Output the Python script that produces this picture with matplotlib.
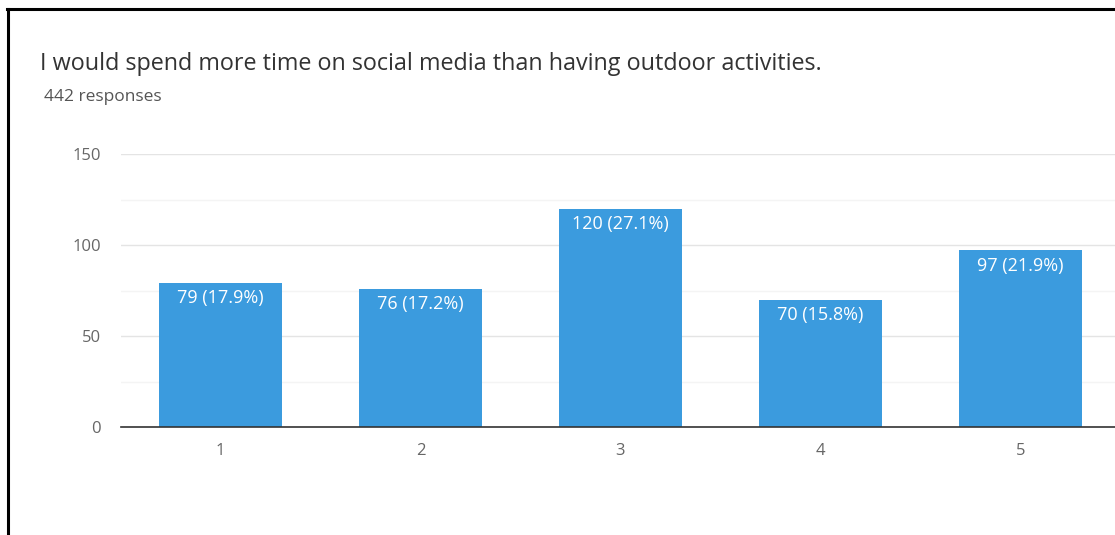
import matplotlib
matplotlib.use("Agg")
import matplotlib.pyplot as plt
from matplotlib.lines import Line2D

title = "I would spend more time on social media than having outdoor activities."
subtitle = "442 responses"
categories = ["1", "2", "3", "4", "5"]
counts = [79, 76, 120, 70, 97]
percents = ["17.9%", "17.2%", "27.1%", "15.8%", "21.9%"]
yticks = [0, 50, 100, 150]
minor_yticks = [25, 75, 125]

W, H = 1115, 535
fig = plt.figure(figsize=(W / 100, H / 100), dpi=100)
plt.rcParams['font.family'] = ['Open Sans', 'DejaVu Sans']

ax = fig.add_axes([120.5 / W, 108 / H, (W - 120.5) / W, 273 / H])
x = list(range(1, len(categories) + 1))
bar_color = '#3B9BDE'
ax.bar(x, counts, width=0.615, color=bar_color, zorder=3)
for xi, c, p in zip(x, counts, percents):
    ax.annotate(f"{c} ({p})", (xi, c), xytext=(0, -4.5), textcoords='offset points',
                ha='center', va='top', color='white', fontsize=13, zorder=4)

ax.set_xlim(0.5, 0.5 + (W - 120.5) / 200)
ax.set_ylim(0, 150)
ax.set_yticks(yticks)
ax.set_yticks(minor_yticks, minor=True)
ax.set_xticks(x)
ax.set_xticklabels(categories)
ax.grid(axis='y', which='major', color='#e4e4e4', linewidth=1, zorder=0)
ax.grid(axis='y', which='minor', color='#f4f4f4', linewidth=1, zorder=0)
ax.tick_params(axis='both', which='both', length=0, colors='#666666', labelsize=12)
ax.tick_params(axis='y', pad=14)
ax.tick_params(axis='x', pad=11.5)
for s in ['left', 'right', 'top']:
    ax.spines[s].set_visible(False)
ax.spines['bottom'].set_color('#333333')
ax.spines['bottom'].set_linewidth(1.2)
ax.spines['bottom'].set_zorder(5)

fig.text(40 / W, 1 - 70 / H, title, fontsize=16.8, color='#333333', va='baseline', ha='left')
fig.text(44 / W, 1 - 101 / H, subtitle, fontsize=12.5, color='#555555', va='baseline', ha='left')

# frame border
fig.add_artist(Line2D([7.5 / W, 7.5 / W], [0, 1 - 9 / H], color='black', linewidth=2.2,
                      transform=fig.transFigure))
fig.add_artist(Line2D([6.5 / W, 1], [1 - 9 / H, 1 - 9 / H], color='black', linewidth=2.2,
                      transform=fig.transFigure))

fig.savefig("out.png", dpi=100)
